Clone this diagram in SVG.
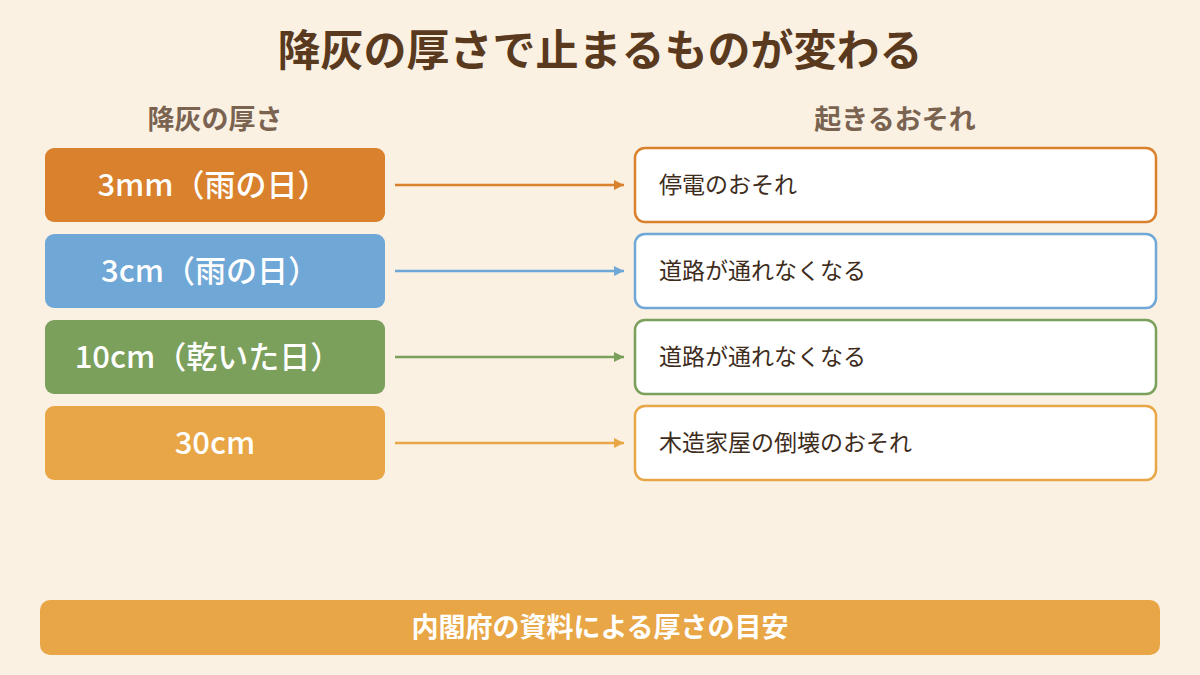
<svg xmlns="http://www.w3.org/2000/svg" width="1200" height="675" viewBox="0 0 1200 675">
<style>
text{font-family:"Noto Sans CJK JP","Noto Sans",sans-serif}
.t{font-size:43px;font-weight:700;fill:#5a3a1e}
.h{font-size:27px;font-weight:700;fill:#7a6350}
.l{font-size:31px;font-weight:500;fill:#fff}
.r{font-size:23px;fill:#3e2c1c}
.rb{fill:#fff;stroke-width:2.5}
</style>
<defs>
<marker id="a1" viewBox="0 0 10 10" refX="10" refY="5" markerWidth="10" markerHeight="10" markerUnits="userSpaceOnUse" orient="auto"><path d="M0,0L10,5L0,10z" fill="#d9812c"/></marker>
<marker id="a2" viewBox="0 0 10 10" refX="10" refY="5" markerWidth="10" markerHeight="10" markerUnits="userSpaceOnUse" orient="auto"><path d="M0,0L10,5L0,10z" fill="#6fa7d6"/></marker>
<marker id="a3" viewBox="0 0 10 10" refX="10" refY="5" markerWidth="10" markerHeight="10" markerUnits="userSpaceOnUse" orient="auto"><path d="M0,0L10,5L0,10z" fill="#7aa05c"/></marker>
<marker id="a4" viewBox="0 0 10 10" refX="10" refY="5" markerWidth="10" markerHeight="10" markerUnits="userSpaceOnUse" orient="auto"><path d="M0,0L10,5L0,10z" fill="#e8a646"/></marker>
</defs>
<rect width="1200" height="675" fill="#faf1e3"/>
<text class="t" x="600" y="66" text-anchor="middle">降灰の厚さで止まるものが変わる</text>
<text class="h" x="215" y="129" text-anchor="middle">降灰の厚さ</text>
<text class="h" x="895" y="129" text-anchor="middle">起きるおそれ</text>
<g id="l1"><rect x="45" y="148" width="340" height="74" rx="9" fill="#d9812c"/><text class="l" x="213" y="196" text-anchor="middle">3mm（雨の日）</text></g>
<g id="l2"><rect x="45" y="234" width="340" height="74" rx="9" fill="#6fa7d6"/><text class="l" x="210" y="282" text-anchor="middle">3cm（雨の日）</text></g>
<g id="l3"><rect x="45" y="320" width="340" height="74" rx="9" fill="#7aa05c"/><text class="l" x="208" y="368" text-anchor="middle">10cm（乾いた日）</text></g>
<g id="l4"><rect x="45" y="406" width="340" height="74" rx="9" fill="#e8a646"/><text class="l" x="215" y="454" text-anchor="middle">30cm</text></g>
<g id="r1"><rect class="rb" x="635" y="148" width="521" height="74" rx="10" stroke="#d9812c"/><text class="r" x="659" y="193">停電のおそれ</text></g>
<g id="r2"><rect class="rb" x="635" y="234" width="521" height="74" rx="10" stroke="#6fa7d6"/><text class="r" x="659" y="279">道路が通れなくなる</text></g>
<g id="r3"><rect class="rb" x="635" y="320" width="521" height="74" rx="10" stroke="#7aa05c"/><text class="r" x="659" y="365">道路が通れなくなる</text></g>
<g id="r4"><rect class="rb" x="635" y="406" width="521" height="74" rx="10" stroke="#e8a646"/><text class="r" x="659" y="451">木造家屋の倒壊のおそれ</text></g>
<g id="connectors" stroke-width="2.5">
<line x1="395" y1="185" x2="624" y2="185" stroke="#d9812c" marker-end="url(#a1)"/>
<line x1="395" y1="271" x2="624" y2="271" stroke="#6fa7d6" marker-end="url(#a2)"/>
<line x1="395" y1="357" x2="624" y2="357" stroke="#7aa05c" marker-end="url(#a3)"/>
<line x1="395" y1="443" x2="624" y2="443" stroke="#e8a646" marker-end="url(#a4)"/>
</g>
<g id="footer"><rect x="40" y="600" width="1120" height="55" rx="10" fill="#e8a646"/><text x="600" y="637" text-anchor="middle" font-size="27" font-weight="700" fill="#fff">内閣府の資料による厚さの目安</text></g>
</svg>
